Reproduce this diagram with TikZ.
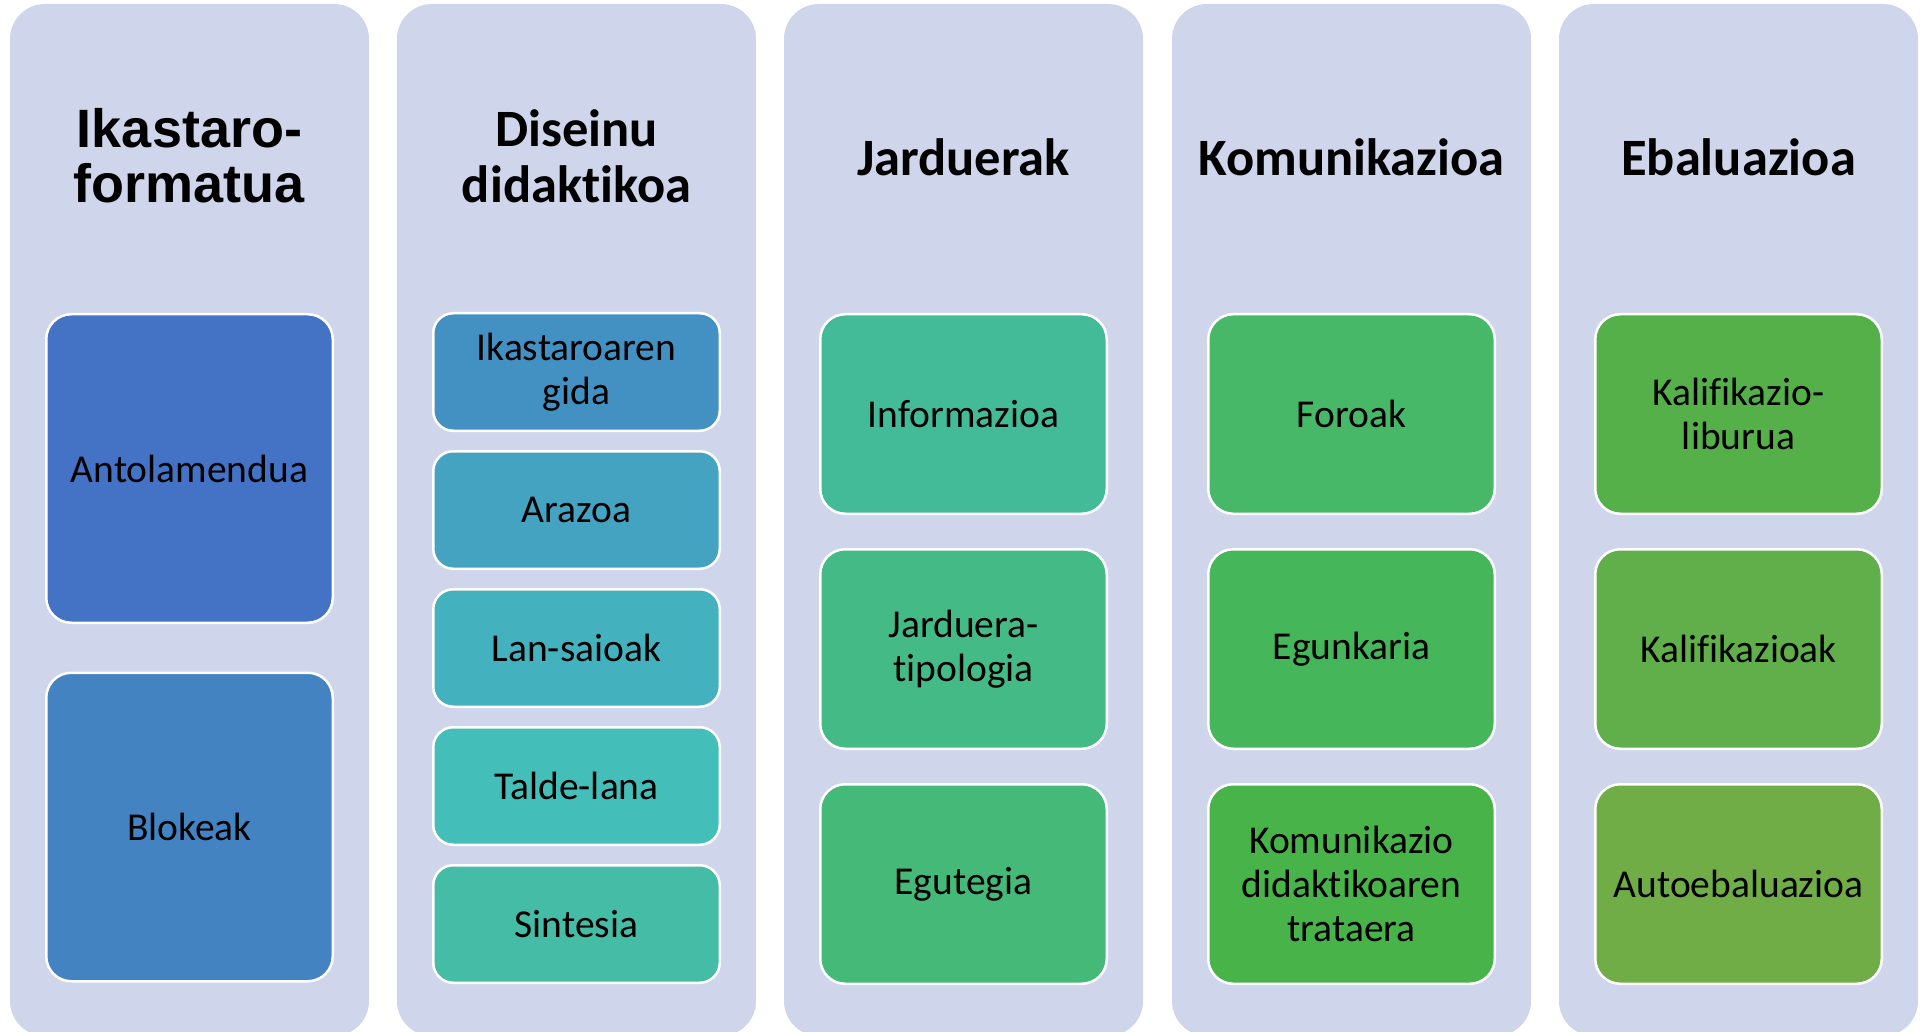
\documentclass[tikz,border=0pt]{standalone}
\usepackage{fontspec}
\setmainfont{Carlito}[Ligatures={NoCommon,NoContextual}]
\newfontfamily\arialfont{Liberation Sans}
\usetikzlibrary{positioning}

\definecolor{panelbg}{HTML}{CFD5EA}
\definecolor{bxA}{HTML}{4472C4}
\definecolor{bxB}{HTML}{4383C2}
\definecolor{bxC}{HTML}{4391C3}
\definecolor{bxD}{HTML}{45A3C2}
\definecolor{bxE}{HTML}{43B1BE}
\definecolor{bxF}{HTML}{44BEB8}
\definecolor{bxG}{HTML}{44BCA6}
\definecolor{bxH}{HTML}{43BA98}
\definecolor{bxI}{HTML}{44BB86}
\definecolor{bxJ}{HTML}{45B977}
\definecolor{bxK}{HTML}{47B868}
\definecolor{bxL}{HTML}{46B65A}
\definecolor{bxM}{HTML}{47B349}
\definecolor{bxN}{HTML}{55B04A}
\definecolor{bxO}{HTML}{61AF4A}
\definecolor{bxP}{HTML}{70AD47}

\tikzset{
  panel/.style={fill=panelbg, rounded corners=35pt},
  head/.style={font=\bfseries\fontsize{52.5}{56}\selectfont, align=center, inner sep=0pt},
  headarial/.style={font=\arialfont\bfseries\fontsize{54}{55}\selectfont, align=center, inner sep=0pt},
  item/.style={draw=white, line width=2.5pt, rounded corners=25pt, minimum width=286.5pt,
    align=center, inner sep=0pt, font=\fontsize{39.5}{44}\selectfont},
  small/.style={item, rounded corners=20pt, minimum height=117.5pt},
  tall/.style={item, minimum height=199.5pt},
}

\begin{document}
\begin{tikzpicture}[x=1pt, y=-1pt]
    \useasboundingbox (0,0) rectangle (1930,1032);
    \clip (0,0) rectangle (1930,1032);
    % background panels
    \fill[panel] (10,4) rectangle (369,1036);
    \fill[panel] (397,4) rectangle (756,1036);
    \fill[panel] (784,4) rectangle (1143,1036);
    \fill[panel] (1172,4) rectangle (1531,1036);
    \fill[panel] (1559,4) rectangle (1918,1036);

    % titles
    \node[headarial] (t1) at (189.5,156) {Ikastaro-\\formatua};
    \node[head] (t2) at (576.5,156) {Diseinu\\didaktikoa};
    \node[head] (t3) at (963.5,157) {Jarduerak};
    \node[head] (t4) at (1351.5,157) {Komunikazioa};
    \node[head] (t5) at (1738.5,157) {Ebaluazioa};

    % column 1
    \node[item, fill=bxA, minimum height=308.5pt] (antol) at (189.5,468.5) {Antolamendua};
    \node[item, fill=bxB, minimum height=308.5pt] (blok) at (189.5,827) {Blokeak};

    % column 2
    \node[small, fill=bxC] (gida) at (576.5,372) {Ikastaroaren\\gida};
    \node[small, fill=bxD] (arazo) at (576.5,510) {Arazoa};
    \node[small, fill=bxE] (saio) at (576.5,648) {Lan-saioak};
    \node[small, fill=bxF] (talde) at (576.5,786) {Talde-lana};
    \node[small, fill=bxG] (sint) at (576.5,924) {Sintesia};

    % column 3
    \node[tall, fill=bxH] (info) at (963.5,414) {Informazioa};
    \node[tall, fill=bxI] (tipo) at (963.5,649) {Jarduera-\\tipologia};
    \node[tall, fill=bxJ] (egut) at (963.5,884) {Egutegia};

    % column 4
    \node[tall, fill=bxK] (foro) at (1351.5,414) {Foroak};
    \node[tall, fill=bxL] (egun) at (1351.5,649) {Egunkaria};
    \node[tall, fill=bxM] (komu) at (1351.5,884) {Komunikazio\\didaktikoaren\\trataera};

    % column 5
    \node[tall, fill=bxN] (liburu) at (1738.5,414) {Kalifikazio-\\liburua};
    \node[tall, fill=bxO] (kalif) at (1738.5,649) {Kalifikazioak};
    \node[tall, fill=bxP] (autoe) at (1738.5,884) {Autoebaluazioa};
\end{tikzpicture}
\end{document}
